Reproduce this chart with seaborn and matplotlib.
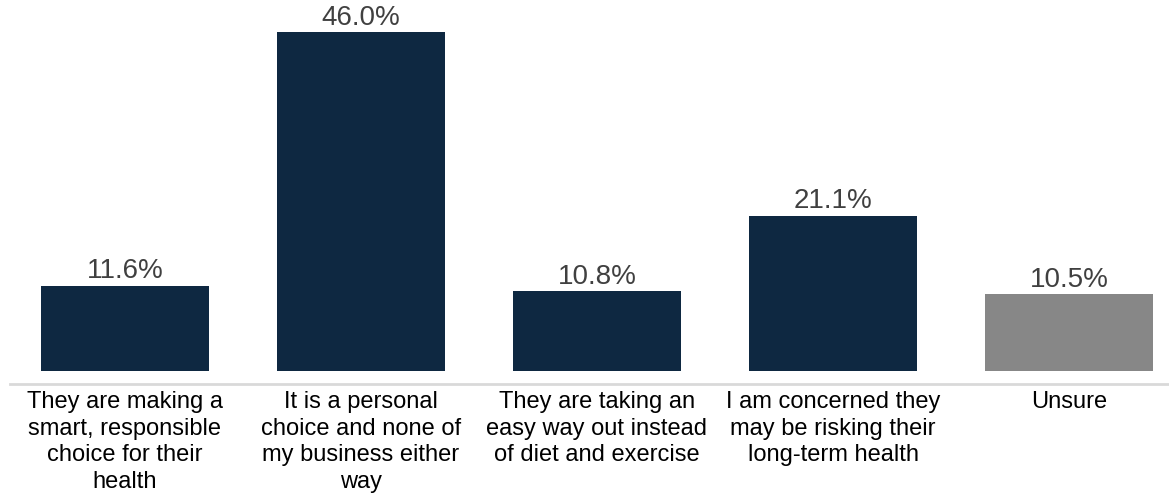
import matplotlib
matplotlib.use("Agg")
import matplotlib.pyplot as plt
import seaborn as sns
import pandas as pd

categories = [
    "They are making a\nsmart, responsible\nchoice for their\nhealth",
    "It is a personal\nchoice and none of\nmy business either\nway",
    "They are taking an\neasy way out instead\nof diet and exercise",
    "I am concerned they\nmay be risking their\nlong-term health",
    "Unsure",
]
values = [11.6, 46.0, 10.8, 21.1, 10.5]
labels = ["11.6%", "46.0%", "10.8%", "21.1%", "10.5%"]
colors = ["#0E2841", "#0E2841", "#0E2841", "#0E2841", "#878787"]

sns.set_theme(style="white")
plt.rcParams["font.family"] = ["Liberation Sans", "DejaVu Sans"]

W, H = 1169, 497
fig = plt.figure(figsize=(W / 100, H / 100), dpi=100)
ax = fig.add_axes([10 / W, (H - 384) / H, (1169 - 10) / W, 384 / H])

df = pd.DataFrame({"cat": categories, "val": values})
sns.barplot(data=df, x="cat", y="val", hue="cat", palette=colors,
            legend=False, width=0.712, ax=ax, saturation=1, linewidth=0)

ppu = 339 / 46.0
ax.set_ylim(-13 / ppu, 371 / ppu)
ax.set_xlim((10 - 125) / 236, (1169 - 125) / 236)

for i, (v, t) in enumerate(zip(values, labels)):
    ax.text(i, v + 0.15, t, ha="center", va="bottom", fontsize=20, color="#404040")

for s in ["top", "right", "left"]:
    ax.spines[s].set_visible(False)
ax.spines["bottom"].set_color("#D9D9D9")
ax.spines["bottom"].set_linewidth(2)
ax.set_yticks([])
ax.set_xlabel("")
ax.set_ylabel("")
ax.tick_params(axis="x", length=0, pad=5, labelsize=17, labelcolor="#000000")
for lbl in ax.get_xticklabels():
    lbl.set_linespacing(1.27)

fig.savefig("out.png", dpi=100)
